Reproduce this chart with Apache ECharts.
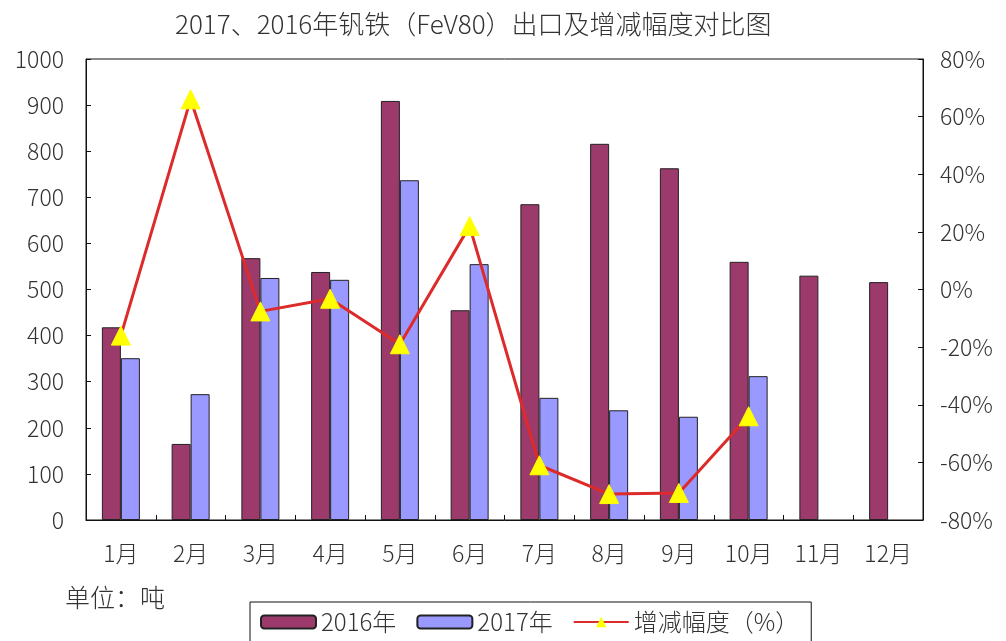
<!DOCTYPE html>
<html>
<head>
<meta charset="utf-8">
<script src="https://cdn.jsdelivr.net/npm/echarts@6/dist/echarts.min.js"></script>
<style>
html,body{margin:0;padding:0;background:#fff;}
#chart{width:1006px;height:641px;}
</style>
</head>
<body>
<div id="chart"></div>
<script>
const months=['1月','2月','3月','4月','5月','6月','7月','8月','9月','10月','11月','12月'];
const export2016=[418,165,568,538,909,455,685,816,763,560,530,516];
const export2017=[351,273,525,521,737,555,265,238,224,312,null,null];
const changePct=[-16,66,-7.6,-3.2,-19,22,-61,-71,-70.6,-44,null,null];
const FONT='"Noto Sans CJK SC", sans-serif';
const TXT='#333';

var chart=echarts.init(document.getElementById('chart'));
chart.setOption({
    animation:false,
    title:{
        text:'2017、2016年钒铁（FeV80）出口及增减幅度对比图',
        left:170, top:6,
        textStyle:{fontFamily:FONT,fontSize:26,fontWeight:300,color:'#333'}
    },
    grid:{left:86,right:83,top:59,bottom:121,show:true,borderColor:'#111',borderWidth:1},
    legend:{
        left:250, top:602,
        padding:[8,12,8,10],
        borderColor:'#111', borderWidth:1,
        itemWidth:55, itemHeight:13, itemGap:20,
        textStyle:{fontFamily:FONT,fontSize:24,fontWeight:300,color:TXT},
        data:['2016年','2017年','增减幅度（%）']
    },
    graphic:[{type:'text',left:65,top:585,style:{text:'单位：吨',font:'300 25px '+FONT,fill:TXT}}],
    xAxis:{
        type:'category', data:months,
        axisLine:{lineStyle:{color:'#111'}},
        axisTick:{show:true,inside:true,length:5,lineStyle:{color:'#111'}},
        axisLabel:{fontFamily:FONT,fontSize:23,fontWeight:300,color:TXT,margin:22}
    },
    yAxis:[{
        type:'value', min:0, max:1000, interval:100,
        axisLine:{show:true,lineStyle:{color:'#111'}},
        axisTick:{show:true,inside:true,length:5,lineStyle:{color:'#111'}},
        splitLine:{show:false},
        axisLabel:{fontFamily:FONT,fontSize:23,fontWeight:300,color:TXT,margin:22,formatter:v=>String(v)}
    },{
        type:'value', min:-80, max:80, interval:20,
        axisLine:{show:true,lineStyle:{color:'#111'}},
        axisTick:{show:true,inside:true,length:5,lineStyle:{color:'#111'}},
        splitLine:{show:false},
        axisLabel:{fontFamily:FONT,fontSize:23,fontWeight:300,color:TXT,margin:17,formatter:'{value}%'}
    }],
    series:[
        {name:'2016年',type:'bar',data:export2016,barWidth:19,barGap:'0%',
         itemStyle:{color:'#9c3a6c',borderColor:'#222',borderWidth:1}},
        {name:'2017年',type:'bar',data:export2017,barWidth:19,
         itemStyle:{color:'#9999ff',borderColor:'#222',borderWidth:1}},
        {name:'增减幅度（%）',type:'line',yAxisIndex:1,data:changePct,
         symbol:'triangle',symbolSize:19,
         lineStyle:{color:'#dd2b2b',width:3},
         itemStyle:{color:'#ffff00',borderColor:'#ffff00'}}
    ]
});
</script>
</body>
</html>
